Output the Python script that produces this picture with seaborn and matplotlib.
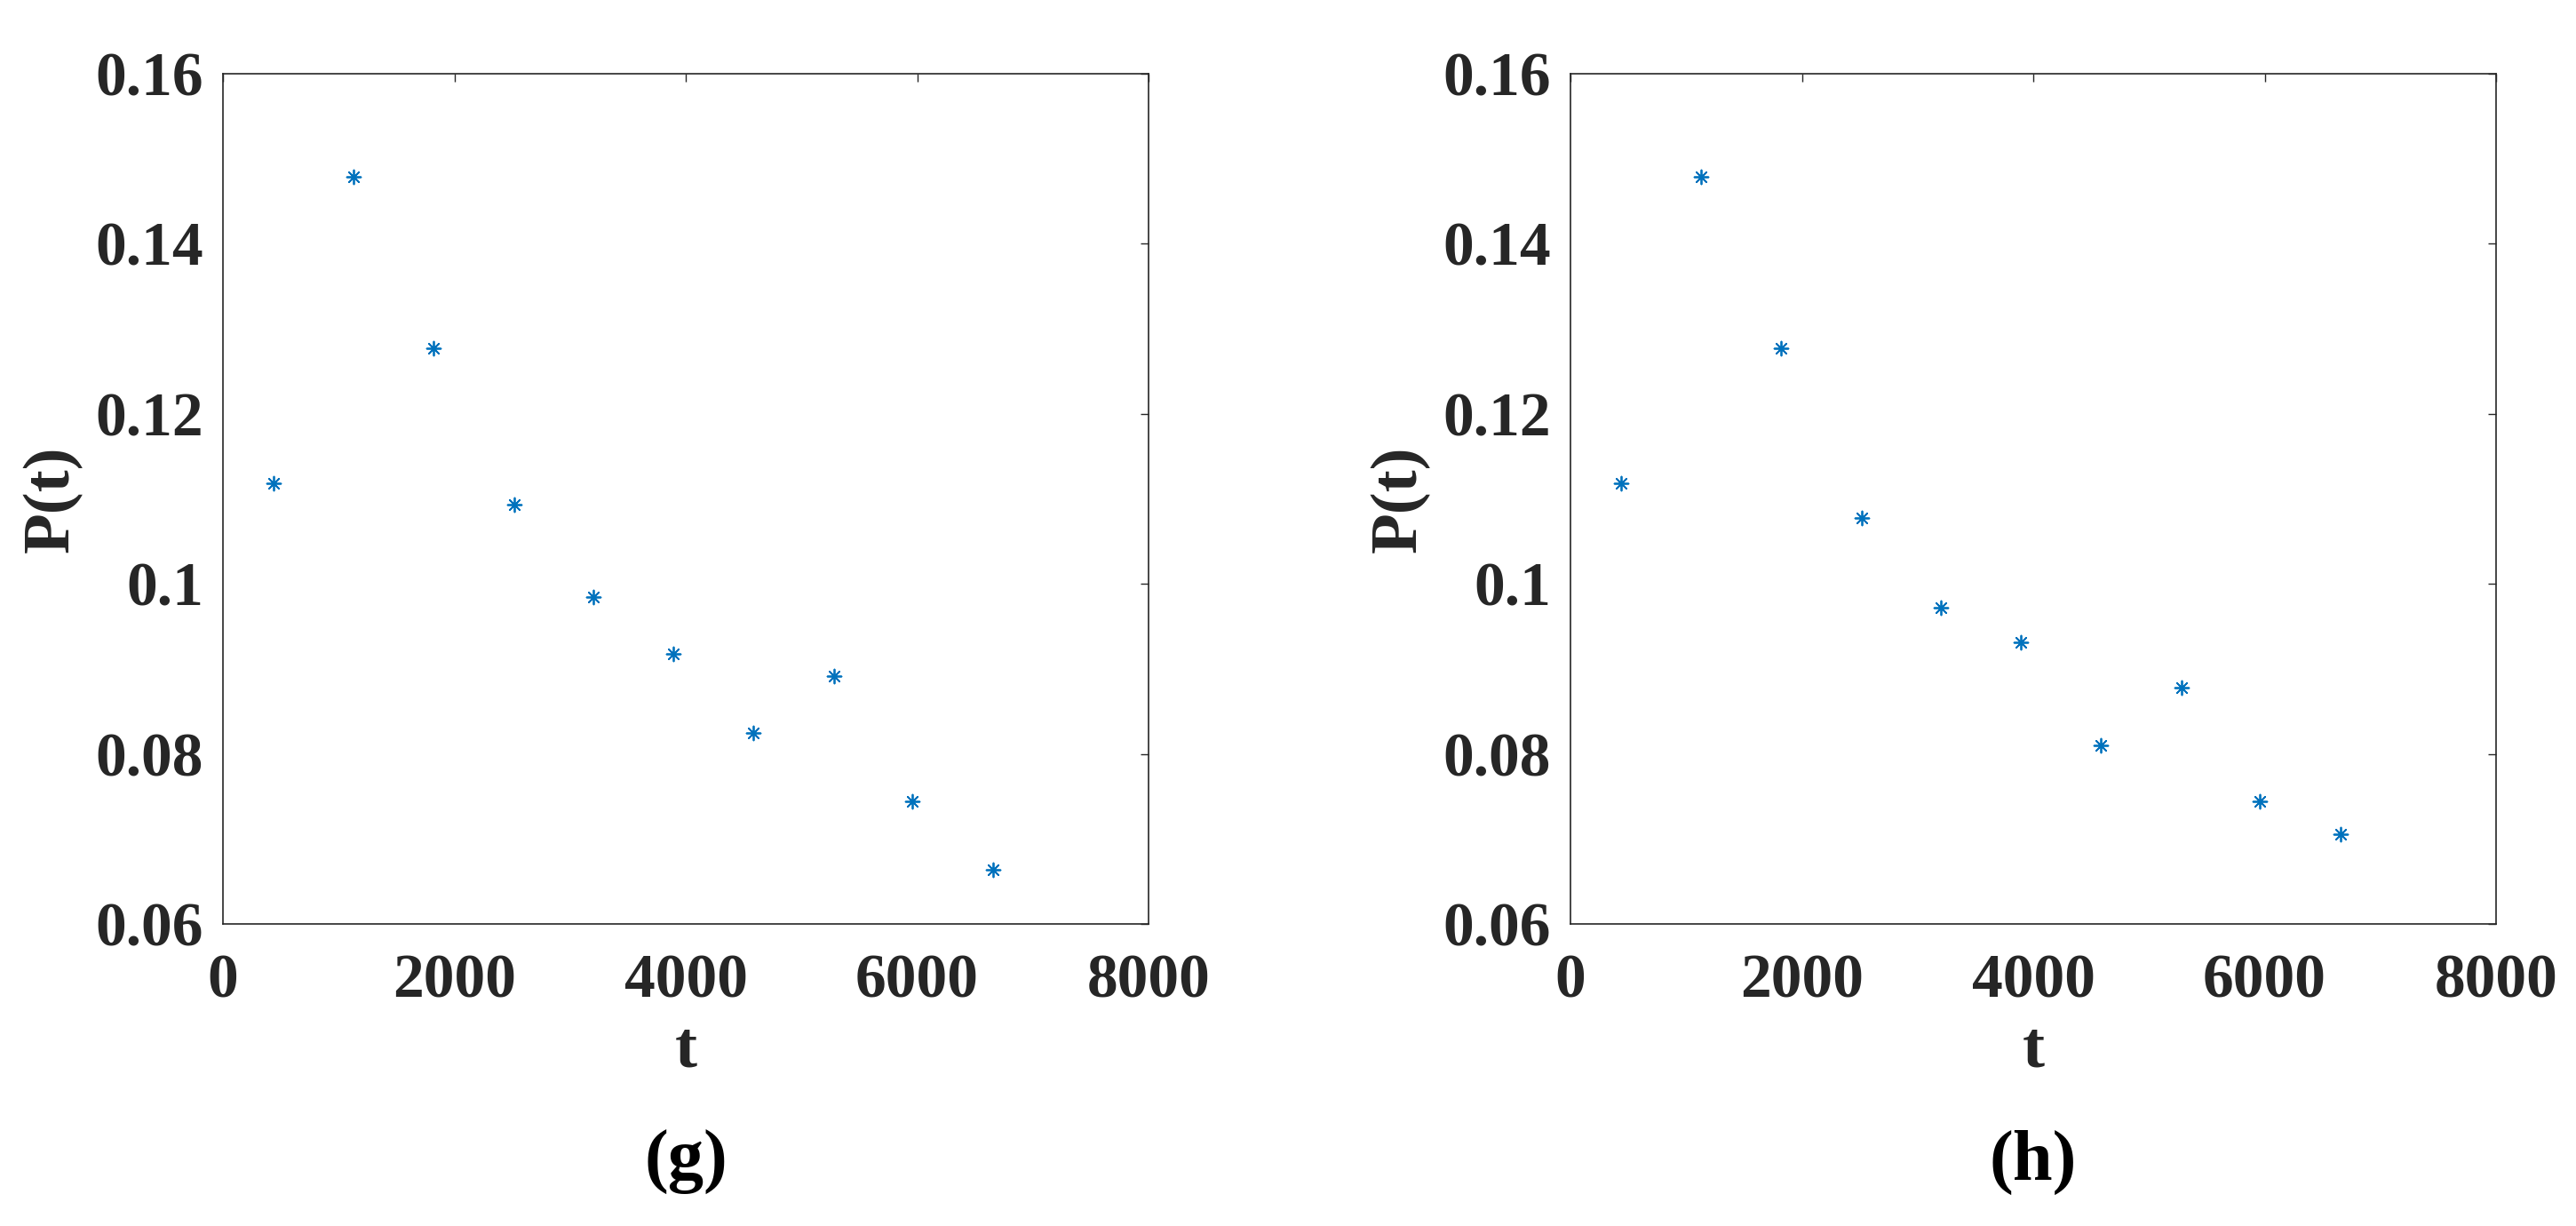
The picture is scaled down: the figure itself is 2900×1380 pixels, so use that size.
import matplotlib
matplotlib.use('Agg')
import matplotlib.pyplot as plt
import pandas as pd
import seaborn as sns

# Data
t_values = [440, 1130, 1820, 2515, 3200, 3890, 4585, 5280, 5960, 6655]
p_g = [0.1118, 0.1479, 0.1277, 0.1093, 0.0984, 0.0918, 0.0825, 0.0892, 0.0744, 0.0664]
p_h = [0.1118, 0.1479, 0.1277, 0.1077, 0.0972, 0.0931, 0.0810, 0.0878, 0.0744, 0.0705]
panel_labels = ['(g)', '(h)']
x_ticks = [0, 2000, 4000, 6000, 8000]
y_ticks = [0.06, 0.08, 0.1, 0.12, 0.14, 0.16]
y_tick_labels = ['0.06', '0.08', '0.1', '0.12', '0.14', '0.16']

sns.set_style('white')
plt.rcParams['font.family'] = ['Liberation Serif', 'DejaVu Serif']
plt.rcParams['font.weight'] = 'bold'

text_color = '#262626'
marker_color = '#0072BD'

fig = plt.figure(figsize=(29, 13.8), dpi=100)
axes = [fig.add_axes([0.0866, 0.2464, 0.3593, 0.6935]),
        fig.add_axes([0.6097, 0.2464, 0.3593, 0.6935])]

for ax, p, label in zip(axes, [p_g, p_h], panel_labels):
    df = pd.DataFrame({'t': t_values, 'P': p})
    sns.scatterplot(data=df, x='t', y='P', ax=ax, marker=(8, 2, 0), s=130,
                    color=marker_color, linewidth=1.3, edgecolor=marker_color)
    ax.set_xlim(0, 8000)
    ax.set_ylim(0.06, 0.16)
    ax.set_xticks(x_ticks)
    ax.set_yticks(y_ticks)
    ax.set_yticklabels(y_tick_labels)
    ax.tick_params(direction='in', length=6.5, width=1.0, colors=text_color,
                   labelsize=50, top=True, right=True, labeltop=False, labelright=False)
    ax.tick_params(axis='y', pad=16)
    ax.tick_params(axis='x', pad=24)
    for lab in ax.get_xticklabels() + ax.get_yticklabels():
        lab.set_fontweight('bold')
    for spine in ax.spines.values():
        spine.set_visible(True)
        spine.set_color(text_color)
        spine.set_linewidth(1.2)
    ax.set_xlabel('t', fontsize=54, fontweight='bold', color=text_color, labelpad=8)
    ax.set_ylabel('P(t)', fontsize=54, fontweight='bold', color=text_color, labelpad=10)
    pos = ax.get_position()
    fig.text((pos.x0 + pos.x1) / 2, 0.052, label, ha='center', va='center',
             fontsize=58, fontweight='bold', color='black')

fig.savefig('out.png', dpi=100, facecolor='white')
